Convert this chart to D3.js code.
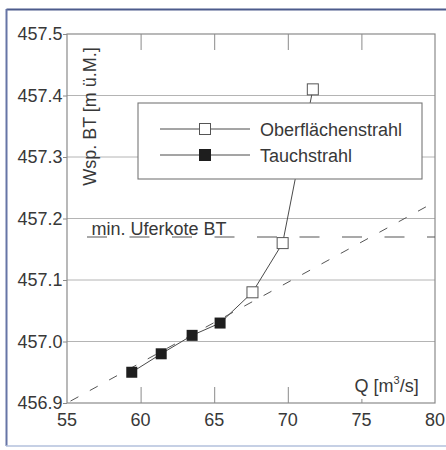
<!DOCTYPE html>
<html><head><meta charset="utf-8">
<script src="https://cdn.jsdelivr.net/npm/d3@7"></script>
<style>
html,body{margin:0;padding:0;background:#fff;}
svg{display:block;font-family:"Liberation Sans",Arial,sans-serif;}
</style></head>
<body>
<svg id="c" width="446" height="450"></svg>
<script>
// Data
const tauchQ = [59.4, 61.4, 63.5, 65.4];
const tauchW = [456.95, 456.98, 457.01, 457.03];
const oberQ = [67.6, 69.65, 71.7];
const oberW = [457.08, 457.16, 457.41];
const trendQ = [55, 80];
const trendW = [456.9, 457.227];
const uferkote = 457.17;
const xTicks = [55, 60, 65, 70, 75, 80];
const yTicks = [456.9, 457.0, 457.1, 457.2, 457.3, 457.4, 457.5];
const seriesNames = ["Oberflächenstrahl", "Tauchstrahl"];

const svg = d3.select("#c");
const L = 67, R = 435, T = 34, B = 403;
const x = d3.scaleLinear().domain([55, 80]).range([L, R]);
const y = d3.scaleLinear().domain([456.9, 457.5]).range([B, T]);
const txt = "#383838", frame = "#8a8a8a", grid = "#b4b4b4", line = "#4a4a4a";

// outer page frame
svg.append("path").attr("d", "M448,9.5H6.5").attr("stroke", "#4d5b8c").attr("stroke-width", 2.2).attr("fill", "none");
svg.append("path").attr("d", "M6.5,9V446").attr("stroke", "#6675a6").attr("stroke-width", 2).attr("fill", "none");
svg.append("path").attr("d", "M6,446H448").attr("stroke", "#b3c0dc").attr("stroke-width", 1.5).attr("fill", "none");

// gridlines
svg.append("g").selectAll("line").data(yTicks.filter(v => v > 456.95 && v < 457.45)).join("line")
  .attr("x1", L).attr("x2", R).attr("y1", d => y(d)).attr("y2", d => y(d))
  .attr("stroke", grid).attr("stroke-width", 1);

// axes via d3 axis
const gx = svg.append("g").attr("transform", `translate(0,${B})`)
  .call(d3.axisBottom(x).tickValues(xTicks.slice(1, -1)).tickSize(-16).tickFormat(""));
const gxt = svg.append("g").attr("transform", `translate(0,${T})`)
  .call(d3.axisTop(x).tickValues(xTicks.slice(1, -1)).tickSize(-16).tickFormat(""));
const gy = svg.append("g").attr("transform", `translate(${L},0)`)
  .call(d3.axisLeft(y).tickValues(yTicks).tickSize(4).tickFormat(""));
[gx, gxt, gy].forEach(g => { g.select(".domain").remove(); g.selectAll("line").attr("stroke", frame); });

// frame of plot
svg.append("rect").attr("x", L).attr("y", T).attr("width", R - L).attr("height", B - T)
  .attr("fill", "none").attr("stroke", frame).attr("stroke-width", 1.2);

// tick labels
svg.append("g").selectAll("text").data(yTicks).join("text")
  .attr("x", L - 4.5).attr("y", d => y(d)).attr("dy", "0.36em")
  .attr("text-anchor", "end").attr("font-size", 18).attr("fill", txt)
  .text(d => d.toFixed(1));
svg.append("g").selectAll("text").data(xTicks).join("text")
  .attr("x", d => x(d)).attr("y", 426)
  .attr("text-anchor", "middle").attr("font-size", 18).attr("fill", txt)
  .text(d => d);

// min. Uferkote dashed line
svg.append("line").attr("x1", L).attr("x2", R).attr("y1", y(uferkote)).attr("y2", y(uferkote))
  .attr("stroke", "#555").attr("stroke-width", 1.1)
  .attr("stroke-dasharray", "20,22.5").attr("stroke-dashoffset", 22.5);
svg.append("text").attr("x", 91.5).attr("y", y(uferkote) - 1.5)
  .attr("font-size", 18).attr("fill", txt).text("min. Uferkote BT");

// trend dashed line
svg.append("line")
  .attr("x1", x(trendQ[0])).attr("y1", y(trendW[0])).attr("x2", x(trendQ[1])).attr("y2", y(trendW[1]))
  .attr("stroke", "#555").attr("stroke-width", 1).attr("stroke-dasharray", "9,13").attr("stroke-dashoffset", -4);

// data lines
const tauch = tauchQ.map((q, i) => [q, tauchW[i]]);
const ober = oberQ.map((q, i) => [q, oberW[i]]);
const lg = d3.line().x(d => x(d[0])).y(d => y(d[1]));
svg.append("path").attr("d", lg(tauch.concat(ober))).attr("fill", "none").attr("stroke", line).attr("stroke-width", 1);

// legend
svg.append("rect").attr("x", 138).attr("y", 103).attr("width", 284).attr("height", 76)
  .attr("fill", "#fff").attr("stroke", "#777").attr("stroke-width", 1.1);
const legY = [129, 155];
seriesNames.forEach((n, i) => {
  svg.append("line").attr("x1", 160).attr("x2", 250).attr("y1", legY[i]).attr("y2", legY[i])
    .attr("stroke", line).attr("stroke-width", 1);
  svg.append("rect").attr("x", 205 - 5.5).attr("y", legY[i] - 5.5).attr("width", 11).attr("height", 11)
    .attr("fill", i === 0 ? "#fff" : "#1e1e1e").attr("stroke", i === 0 ? "#555" : "#1e1e1e").attr("stroke-width", 1);
  svg.append("text").attr("x", 260).attr("y", legY[i] + 6.5).attr("font-size", 18).attr("fill", txt).text(n);
});

// markers
svg.append("g").selectAll("rect").data(ober).join("rect")
  .attr("x", d => x(d[0]) - 5.5).attr("y", d => y(d[1]) - 5.5).attr("width", 11).attr("height", 11)
  .attr("fill", "#fff").attr("stroke", "#555").attr("stroke-width", 1);
svg.append("g").selectAll("rect").data(tauch).join("rect")
  .attr("x", d => x(d[0]) - 5.5).attr("y", d => y(d[1]) - 5.5).attr("width", 11).attr("height", 11)
  .attr("fill", "#1e1e1e");

// axis titles
svg.append("rect").attr("x", 352).attr("y", 376).attr("width", 70).attr("height", 23).attr("fill", "#fff");
const xt = svg.append("text").attr("x", 354.5).attr("y", 392).attr("font-size", 18).attr("fill", txt);
xt.append("tspan").text("Q [m");
xt.append("tspan").attr("font-size", 11).attr("dy", -8).text("3");
xt.append("tspan").attr("dy", 8).text("/s]");
svg.append("text").attr("transform", "translate(96,116.5) rotate(-90)")
  .attr("text-anchor", "middle").attr("font-size", 18).attr("fill", txt).text("Wsp. BT [m ü.M.]");
</script>
</body></html>
